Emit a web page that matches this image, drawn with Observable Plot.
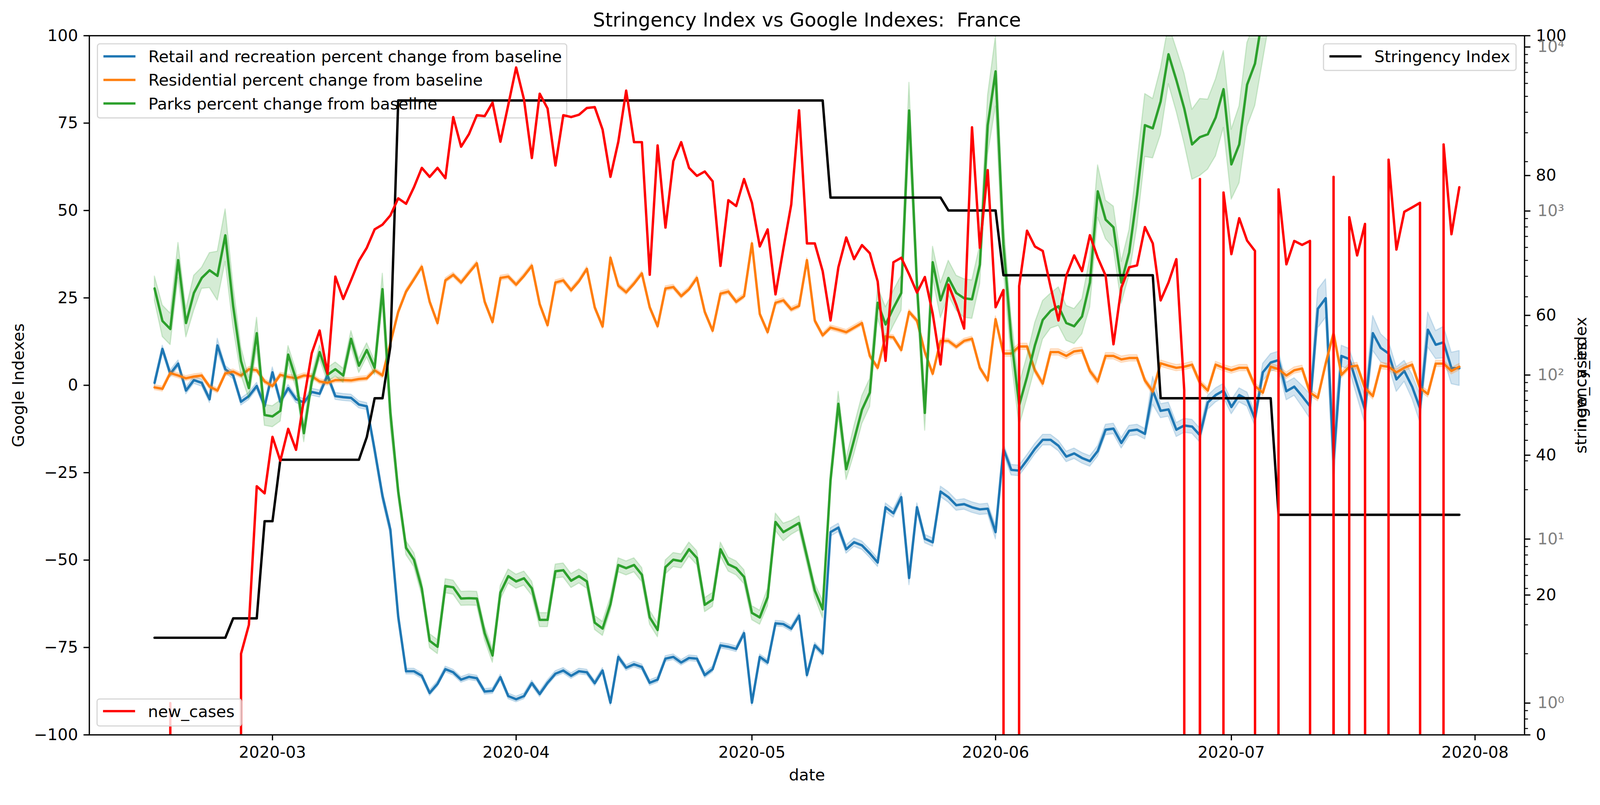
<!DOCTYPE html>
<html>
<head>
<meta charset="utf-8">
<script src="https://cdn.jsdelivr.net/npm/d3@7"></script>
<script src="https://cdn.jsdelivr.net/npm/@observablehq/plot@0.6"></script>
<style>
  html, body { margin: 0; padding: 0; background: #ffffff; overflow: hidden; }
  #wrap { position: relative; width: 4146px; height: 2060px; background: #ffffff; font-family: "DejaVu Sans", sans-serif; overflow: hidden; transform-origin: 0 0; }
  #wrap > svg { position: absolute; left: 0; top: 0; }
  .layer { position: absolute; left: 0; top: 0; width: 4146px; height: 2060px; pointer-events: none; }
  .box { position: absolute; box-sizing: border-box; border: 3.5px solid rgba(204,204,204,0.8); border-radius: 8px; background: rgba(255,255,255,0.8); }
  .handle { position: absolute; height: 6.25px; width: 83.3px; }
  .lab { position: absolute; font-family: "DejaVu Sans", sans-serif; font-size: 41.67px; line-height: 48.5px; white-space: pre; color: #000; }
</style>
</head>
<body>
<div id="wrap"></div>
<script>
// ---------------- data (daily, 2020-02-15 .. 2020-07-30) ----------------
const firstDay = "2020-02-15";
const lastDay = "2020-07-30";

const retail = [
  0.7, 10.4, 3.3, 6.2, -1.5, 1.5, 0.7, -4.0, 11.4, 4.6,
  2.8, -4.7, -3.1, -0.2, -6.0, 3.7, -4.7, -0.8, -4.0, -4.9,
  -1.9, -2.4, 2.8, -3.1, -3.4, -3.6, -5.5, -6.0, -18.5, -31.7,
  -41.3, -66.2, -81.8, -81.8, -83.1, -88.0, -85.4, -81.2, -82.1, -84.2,
  -83.4, -83.8, -87.6, -87.4, -83.5, -88.9, -89.8, -88.9, -85.2, -88.3,
  -85.1, -82.5, -81.6, -83.1, -81.8, -82.1, -85.2, -81.6, -90.8, -77.7,
  -80.8, -79.8, -80.6, -85.1, -84.2, -78.2, -77.7, -79.3, -78.0, -78.2,
  -82.9, -81.2, -74.4, -74.8, -75.4, -70.9, -90.8, -77.7, -79.3, -68.1,
  -68.3, -69.6, -65.9, -82.9, -74.4, -76.7, -42.0, -40.7, -46.9, -44.9,
  -45.8, -48.1, -50.7, -34.9, -36.6, -32.0, -55.1, -34.9, -43.9, -44.9,
  -30.4, -32.0, -34.3, -34.0, -34.9, -35.5, -35.3, -42.0, -18.2, -24.2,
  -24.4, -21.4, -18.2, -15.6, -15.6, -17.3, -20.4, -19.5, -20.8, -21.7,
  -18.8, -12.7, -12.4, -16.5, -13.0, -12.7, -13.9, -1.5, -7.3, -6.9,
  -12.7, -11.5, -11.8, -14.3, -4.9, -2.8, -1.5, -6.2, -2.8, -4.0,
  -9.6, 3.7, 6.5, 7.2, -1.7, -0.4, -3.1, -6.0, 21.9, 24.9,
  -21.4, 8.4, 7.5, 0.2, -7.0, 14.9, 10.7, 9.1, 1.7, 4.1,
  -0.4, -6.6, 15.9, 11.6, 12.3, 4.9, 4.9
];
const retailBand = [
  1, 1, 1, 1, 1, 1, 1, 1, 2, 1,
  1, 1, 1, 1, 1, 1.5, 1, 1, 1, 1,
  1, 1, 1, 1, 1, 1, 1, 1, 1.5, 1.5,
  1.5, 1.5, 0.8, 0.8, 0.8, 0.8, 0.8, 0.8, 0.8, 0.8,
  0.8, 0.8, 0.8, 0.8, 0.8, 0.8, 0.8, 0.8, 0.8, 0.8,
  0.8, 0.8, 0.8, 0.8, 0.8, 0.8, 0.8, 0.8, 0.8, 0.8,
  0.8, 0.8, 0.8, 0.8, 0.8, 0.8, 0.8, 0.8, 0.8, 0.8,
  0.8, 0.8, 0.8, 0.8, 0.8, 0.8, 0.8, 0.8, 0.8, 0.8,
  0.8, 0.8, 0.8, 0.8, 0.8, 0.8, 1.2, 1.2, 1.2, 1.2,
  1.2, 1.2, 1.2, 1.2, 1.2, 1.2, 2, 1.2, 1.2, 1.2,
  1.5, 1.5, 1.5, 1.5, 1.5, 1.5, 1.5, 2, 1.5, 1.5,
  1.5, 1.5, 1.5, 1.5, 1.5, 1.5, 1.5, 1.5, 1.5, 1.5,
  1.5, 1.5, 1.5, 1.5, 1.5, 1.5, 1.5, 4, 2, 2,
  2, 2, 2, 2, 2, 2, 2, 2, 2, 2,
  2, 2.5, 2.5, 2.5, 2.5, 2.5, 3, 3.5, 5.5, 5.5,
  8, 3, 3, 3.5, 4, 5, 4, 3.5, 3.5, 3,
  3.5, 4, 5, 4, 4.5, 4.5, 5
];

const residential = [
  -0.6, -1.0, 3.5, 2.8, 2.0, 2.5, 2.8, -0.4, -1.5, 3.4,
  3.9, 2.8, 4.6, 4.3, 1.1, -0.2, 3.0, 2.4, 2.0, 2.8,
  2.6, 1.1, 0.7, 1.5, 1.5, 1.4, 1.8, 2.0, 4.3, 2.8,
  12.0, 21.0, 26.8, 30.3, 33.9, 23.9, 17.8, 30.0, 31.6, 29.4,
  32.2, 34.9, 23.9, 18.1, 30.7, 31.1, 28.8, 31.3, 34.2, 23.2,
  17.2, 29.4, 30.0, 27.2, 29.8, 33.3, 22.3, 16.8, 36.5, 28.5,
  26.6, 29.1, 32.0, 22.3, 16.9, 27.7, 28.1, 25.5, 27.5, 30.7,
  21.0, 15.6, 26.2, 26.8, 23.9, 25.5, 40.6, 20.4, 15.2, 23.6,
  24.3, 21.7, 22.7, 35.8, 18.5, 14.3, 16.5, 15.9, 15.2, 16.5,
  17.8, 8.4, 5.0, 14.0, 13.7, 10.1, 21.0, 18.5, 9.5, 3.3,
  12.7, 12.7, 11.0, 12.7, 13.3, 5.0, 1.4, 18.9, 9.1, 9.1,
  11.1, 11.1, 4.3, 0.5, 9.5, 9.5, 8.4, 9.7, 10.0, 4.1,
  1.1, 8.4, 8.4, 7.4, 7.8, 7.8, 1.4, -1.8, 6.3, 5.6,
  5.0, 5.3, 5.9, 0.7, -1.5, 5.9, 5.0, 4.3, 5.0, 5.0,
  -0.2, -2.1, 5.3, 4.6, 2.8, 4.3, 4.8, -2.1, -3.6, 6.2,
  14.9, 3.0, 5.3, 5.6, -0.8, -3.1, 5.6, 5.3, 3.7, 5.0,
  5.9, -0.8, -2.5, 6.2, 6.2, 4.1, 5.3
];
const residentialBand = [
  0.7, 0.7, 0.7, 0.7, 0.7, 0.7, 0.7, 0.7, 0.7, 0.7,
  0.7, 0.7, 0.7, 0.7, 0.7, 0.7, 0.7, 0.7, 0.7, 0.7,
  0.7, 0.7, 0.7, 0.7, 0.7, 0.7, 0.7, 0.7, 0.7, 0.7,
  0.7, 0.7, 0.7, 0.7, 0.7, 0.7, 0.7, 0.7, 0.7, 0.7,
  0.7, 0.7, 0.7, 0.7, 0.7, 0.7, 0.7, 0.7, 0.7, 0.7,
  0.7, 0.7, 0.7, 0.7, 0.7, 0.7, 0.7, 0.7, 0.7, 0.7,
  0.7, 0.7, 0.7, 0.7, 0.7, 0.7, 0.7, 0.7, 0.7, 0.7,
  0.7, 0.7, 0.7, 0.7, 0.7, 0.7, 0.7, 0.7, 0.7, 0.7,
  0.7, 0.7, 0.7, 0.7, 0.7, 0.7, 0.7, 0.7, 0.7, 0.7,
  0.7, 0.7, 0.7, 0.7, 0.7, 0.7, 0.7, 0.7, 0.7, 0.7,
  0.7, 0.7, 0.7, 0.7, 0.7, 0.7, 0.7, 0.9, 0.9, 0.9,
  0.9, 0.9, 0.9, 0.9, 0.9, 0.9, 0.9, 0.9, 0.9, 0.9,
  0.9, 0.9, 0.9, 0.9, 0.9, 0.9, 0.9, 0.9, 0.9, 0.9,
  0.9, 0.9, 0.9, 0.9, 0.9, 0.9, 0.9, 0.9, 0.9, 0.9,
  0.9, 0.9, 0.9, 0.9, 0.9, 0.9, 0.9, 0.9, 0.9, 0.9,
  0.9, 0.9, 0.9, 0.9, 0.9, 0.9, 0.9, 0.9, 0.9, 0.9,
  0.9, 0.9, 0.9, 0.9, 0.9, 0.9, 0.9
];

const parks = [
  27.7, 18.4, 16.1, 35.8, 17.8, 26.4, 30.7, 32.9, 31.3, 42.9,
  22.6, 6.9, -0.8, 14.9, -8.5, -8.9, -7.3, 8.8, 1.7, -13.7,
  1.1, 9.5, 3.0, 4.6, 2.8, 13.3, 5.6, 10.1, 5.0, 27.5,
  -7.9, -30.4, -46.5, -49.9, -58.1, -73.1, -74.8, -57.4, -57.8, -61.0,
  -60.9, -61.0, -70.9, -77.3, -59.3, -54.6, -56.1, -55.2, -58.1, -67.1,
  -67.1, -53.2, -52.9, -55.9, -54.6, -56.1, -67.9, -69.6, -62.6, -51.4,
  -52.3, -51.4, -54.2, -66.4, -70.0, -52.0, -49.9, -50.3, -46.9, -49.4,
  -62.8, -61.3, -46.9, -51.2, -52.3, -54.8, -65.1, -66.4, -60.6, -39.1,
  -42.0, -40.7, -39.4, -49.0, -58.7, -64.1, -27.2, -5.3, -24.0, -15.6,
  -7.0, -2.1, 23.6, 17.4, 22.1, 26.4, 78.6, 28.8, -7.9, 35.2,
  24.3, 30.7, 26.4, 24.9, 24.6, 34.5, 74.4, 89.8, 40.3, 13.3,
  -5.7, 2.4, 11.4, 18.7, 21.3, 22.6, 17.8, 16.9, 19.7, 29.4,
  55.5, 47.4, 45.2, 29.4, 38.0, 54.5, 74.4, 73.5, 81.2, 94.7,
  87.3, 79.2, 68.9, 71.0, 71.8, 76.6, 84.7, 63.2, 68.9, 86.0,
  92.0, 106, 118, 124, 128, 122, 130, 126, 119, 125,
  133, 128, 120, 124, 117, 122, 129, 127, 121, 125,
  132, 127, 118, 121, 126, 123, 120
];
const parksBand = [
  3.5, 4.5, 4.5, 5, 4, 5, 3, 5, 7, 7.5,
  6, 4, 3, 4.5, 3, 3, 3, 2.5, 2.5, 2.5,
  2, 2, 2, 2, 2, 2.3, 2, 2, 2, 4.5,
  4, 2, 2, 2, 2, 2, 2, 2, 2, 2,
  2, 2, 2, 2, 2, 2, 2, 2, 2, 2,
  2, 2, 2, 2, 2, 2, 2, 2, 2, 2,
  2, 2, 2, 2, 2, 2, 2, 2, 2, 2,
  2, 2, 2, 2, 2, 2, 2, 2, 2.5, 2.5,
  2.5, 2, 2, 2, 2, 2.5, 2.5, 3.5, 3, 4,
  4, 4, 4.5, 5, 5, 5, 8, 4, 5, 4.5,
  5, 5, 5, 5.5, 5.5, 5.5, 8.5, 10, 7, 6,
  6, 6, 6.5, 5.5, 5, 5.5, 5, 5, 5, 7,
  7.5, 5.5, 6, 6, 6.5, 9, 9, 8.5, 9.5, 8.5,
  9, 10, 10, 11, 10, 11, 11, 10, 11, 12,
  12, 13, 12, 12, 12, 12, 12, 12, 12, 12,
  12, 12, 12, 12, 12, 12, 12, 12, 12, 12,
  12, 12, 12, 12, 12, 12, 12
];

const stringency = [
  13.89, 13.89, 13.89, 13.89, 13.89, 13.89, 13.89, 13.89, 13.89, 13.89,
  16.67, 16.67, 16.67, 16.67, 30.56, 30.56, 39.35, 39.35, 39.35, 39.35,
  39.35, 39.35, 39.35, 39.35, 39.35, 39.35, 39.35, 42.59, 48.15, 48.15,
  55.56, 90.74, 90.74, 90.74, 90.74, 90.74, 90.74, 90.74, 90.74, 90.74,
  90.74, 90.74, 90.74, 90.74, 90.74, 90.74, 90.74, 90.74, 90.74, 90.74,
  90.74, 90.74, 90.74, 90.74, 90.74, 90.74, 90.74, 90.74, 90.74, 90.74,
  90.74, 90.74, 90.74, 90.74, 90.74, 90.74, 90.74, 90.74, 90.74, 90.74,
  90.74, 90.74, 90.74, 90.74, 90.74, 90.74, 90.74, 90.74, 90.74, 90.74,
  90.74, 90.74, 90.74, 90.74, 90.74, 90.74, 76.85, 76.85, 76.85, 76.85,
  76.85, 76.85, 76.85, 76.85, 76.85, 76.85, 76.85, 76.85, 76.85, 76.85,
  76.85, 75.00, 75.00, 75.00, 75.00, 75.00, 75.00, 75.00, 65.74, 65.74,
  65.74, 65.74, 65.74, 65.74, 65.74, 65.74, 65.74, 65.74, 65.74, 65.74,
  65.74, 65.74, 65.74, 65.74, 65.74, 65.74, 65.74, 65.74, 48.15, 48.15,
  48.15, 48.15, 48.15, 48.15, 48.15, 48.15, 48.15, 48.15, 48.15, 48.15,
  48.15, 48.15, 48.15, 31.48, 31.48, 31.48, 31.48, 31.48, 31.48, 31.48,
  31.48, 31.48, 31.48, 31.48, 31.48, 31.48, 31.48, 31.48, 31.48, 31.48,
  31.48, 31.48, 31.48, 31.48, 31.48, 31.48, 31.48
];

const newCases = [
  0, 0, 1, 0, 0, 0, 0, 0, 0, 0,
  0, 2, 3, 21, 19, 42, 30, 47, 35, 71,
  136, 187, 102, 398, 291, 379, 497, 597, 773, 826,
  940, 1195, 1107, 1397, 1832, 1615, 1832, 1585, 3740, 2466,
  2944, 3838, 3791, 4583, 2644, 4436, 7500, 4786, 2105, 5190,
  4217, 1893, 3838, 3740, 3863, 4246, 4300, 3134, 1615, 2644,
  5420, 2630, 2630, 409, 2512, 792, 2014, 2630, 1832, 1637,
  1742, 1517, 463, 1164, 1073, 1567, 1122, 608, 773, 310,
  589, 1094, 4111, 635, 635, 430, 215, 454, 690, 509,
  620, 553, 372, 122, 487, 519, 411, 318, 396, 237,
  116, 356, 268, 192, 3238, 597, 1775, 259, 330, 0,
  349, 759, 608, 571, 345, 215, 404, 536, 430, 712,
  519, 404, 154, 341, 454, 466, 798, 635, 285, 367,
  509, 81, 0, 1567, 0, 0, 1297, 546, 904, 660,
  571, 0, 0, 1355, 473, 657, 621, 657, 0, 0,
  1615, 0, 917, 536, 834, 0, 0, 2056, 582, 989,
  1052, 1122, 0, 0, 2546, 722, 1397
];

const xTickLabels = ["2020-03", "2020-04", "2020-05", "2020-06", "2020-07", "2020-08"];
const leftTicks = [-100, -75, -50, -25, 0, 25, 50, 75, 100];
const stringencyTicks = [0, 20, 40, 60, 80, 100];
const caseDecades = [1, 10, 100, 1000, 10000];

const titleText = "Stringency Index vs Google Indexes:  France";
const legendGoogle = [
  {label: "Retail and recreation percent change from baseline", color: "#1f77b4"},
  {label: "Residential percent change from baseline", color: "#ff7f0e"},
  {label: "Parks percent change from baseline", color: "#2ca02c"}
];

// ---------------- build ----------------
const dates = d3.utcDay.range(new Date(firstDay + "T00:00Z"), d3.utcDay.offset(new Date(lastDay + "T00:00Z"), 1));
const rows = dates.map((date, i) => ({
  date,
  retail: retail[i], retailLo: retail[i] - retailBand[i], retailHi: retail[i] + retailBand[i],
  residential: residential[i], residentialLo: residential[i] - residentialBand[i], residentialHi: residential[i] + residentialBand[i],
  parks: parks[i], parksLo: parks[i] - parksBand[i], parksHi: parks[i] + parksBand[i],
  stringency: stringency[i],
  cases: newCases[i]
}));

// matplotlib-like 5% margins on x
const t0 = +dates[0], t1 = +dates[dates.length - 1], span = t1 - t0;
const xDomain = [new Date(t0 - 0.05 * span), new Date(t1 + 0.05 * span)];

// log autoscale with 5% margins (in log space) on positive values
const posCases = newCases.filter(c => c > 0);
const l0 = Math.log10(d3.min(posCases)), l1 = Math.log10(d3.max(posCases));
const lpad = 0.05 * (l1 - l0);
const logDomain = [Math.pow(10, l0 - lpad), Math.pow(10, l1 + lpad)];
const minorLog = [];
for (let k = -1; k <= 4; k++) for (let m = 2; m <= 9; m++) {
  const v = m * Math.pow(10, k);
  if (v >= logDomain[0] && v <= logDomain[1]) minorLog.push(v);
}

const W = 4146, H = 2060;
const FS = 41.67;
const TICK = 14.6, PAD = 14.6, LW = 6.25;
const base = {
  width: W, height: H,
  marginLeft: 231, marginRight: 196, marginTop: 92, marginBottom: 157,
  style: {fontFamily: "DejaVu Sans", fontSize: FS + "px", background: "transparent", overflow: "visible", maxWidth: "none", color: "black"}
};

const minusFmt = d => (d < 0 ? "\u2212" + Math.abs(d) : String(d));
const supDigits = {"0": "\u2070", "1": "\u00b9", "2": "\u00b2", "3": "\u00b3", "4": "\u2074"};
const decadeFmt = d => "10" + String(Math.round(Math.log10(d))).split("").map(c => supDigits[c]).join("");

const googleSeries = [
  {key: "retail", color: "#1f77b4"},
  {key: "residential", color: "#ff7f0e"},
  {key: "parks", color: "#2ca02c"}
];

const svg1 = Plot.plot({
  ...base,
  x: {type: "utc", domain: xDomain},
  y: {domain: [-100, 100]},
  marks: [
    ...googleSeries.flatMap(s => [
      Plot.lineY(rows, {x: "date", y: s.key, stroke: s.color, strokeWidth: LW, clip: true}),
      Plot.areaY(rows, {x: "date", y1: s.key + "Lo", y2: s.key + "Hi", fill: s.color, fillOpacity: 0.2,
        stroke: s.color, strokeOpacity: 0.2, strokeWidth: 3, clip: true})
    ]),
    Plot.axisX({ticks: xTickLabels.map(s => new Date(s + "-01T00:00Z")), tickFormat: d3.utcFormat("%Y-%m"),
      tickSize: TICK, tickPadding: PAD, strokeWidth: 3.3, label: null}),
    Plot.axisY({ticks: leftTicks, tickFormat: minusFmt, anchor: "left", tickSize: TICK, tickPadding: PAD,
      strokeWidth: 3.3, label: null}),
    Plot.text([titleText], {text: d => d, frameAnchor: "top", textAnchor: "middle", lineAnchor: "bottom", dy: -24, fontSize: 50}),
    Plot.text(["Google Indexes"], {text: d => d, frameAnchor: "left", textAnchor: "middle", lineAnchor: "middle", rotate: -90, dx: -183}),
    Plot.text(["date"], {text: d => d, frameAnchor: "bottom", textAnchor: "middle", lineAnchor: "bottom", dy: 118})
  ]
});

const svg2 = Plot.plot({
  ...base,
  x: {type: "utc", domain: xDomain, axis: null},
  y: {domain: [0, 100]},
  marks: [
    Plot.lineY(rows, {x: "date", y: "stringency", stroke: "black", strokeWidth: LW, clip: true}),
    Plot.axisY({ticks: stringencyTicks, anchor: "right", tickSize: TICK, tickPadding: PAD, strokeWidth: 3.3, label: null}),
    Plot.text(["stringency_index"], {text: d => d, frameAnchor: "right", textAnchor: "middle", lineAnchor: "middle", rotate: -90, dx: 147})
  ]
});

const svg3 = Plot.plot({
  ...base,
  x: {type: "utc", domain: xDomain, axis: null},
  y: {type: "log", domain: logDomain},
  marks: [
    // non-positive counts are clipped to a tiny positive value, as matplotlib's log scale does
    Plot.lineY(rows, {x: "date", y: d => (d.cases > 0 ? d.cases : 1e-300), stroke: "red", strokeWidth: LW, clip: true}),
    Plot.axisY({ticks: minorLog, tickFormat: () => "", anchor: "right", tickSize: 8.3, tickPadding: 0, strokeWidth: 2.5, label: null}),
    Plot.axisY({ticks: caseDecades, tickFormat: decadeFmt, anchor: "right", tickSize: TICK, tickPadding: PAD + 4,
      strokeWidth: 3.3, stroke: "black", fill: "#808080", label: null}),
    Plot.frame({stroke: "black", strokeWidth: 3.3}),
    Plot.text(["new_cases"], {text: d => d, frameAnchor: "right", textAnchor: "middle", lineAnchor: "middle", rotate: -90, dx: 147})
  ]
});

const wrap = document.getElementById("wrap");

function addLegend(box, entries) {
  const layer = document.createElement("div");
  layer.className = "layer";
  const b = document.createElement("div");
  b.className = "box";
  Object.assign(b.style, {left: box.x + "px", top: box.y + "px", width: box.w + "px", height: box.h + "px"});
  layer.appendChild(b);
  entries.forEach((e, i) => {
    const cy = box.firstRow + i * 61;
    const h = document.createElement("div");
    h.className = "handle";
    Object.assign(h.style, {left: (box.x + 16.7) + "px", top: (cy - 3.125) + "px", background: e.color});
    layer.appendChild(h);
    const t = document.createElement("div");
    t.className = "lab";
    t.textContent = e.label;
    Object.assign(t.style, {left: (box.x + 133.3) + "px", top: (cy + 16 - 38.67) + "px"});
    layer.appendChild(t);
  });
  wrap.appendChild(layer);
}

wrap.appendChild(svg1);
addLegend({x: 251, y: 112, w: 1219, h: 195, firstRow: 146}, legendGoogle);
wrap.appendChild(svg2);
addLegend({x: 3428, y: 112, w: 502, h: 72, firstRow: 146}, [{label: "Stringency Index", color: "#000000"}]);
wrap.appendChild(svg3);
addLegend({x: 250, y: 1809, w: 377, h: 73, firstRow: 1842}, [{label: "new_cases", color: "#ff0000"}]);

// fit the 4146x2060 drawing into whatever viewport the page is given
function fit() {
  const vw = document.documentElement.clientWidth || window.innerWidth;
  const vh = document.documentElement.clientHeight || window.innerHeight;
  const s = Math.min(vw / W, vh / H, 1);
  wrap.style.transform = s < 1 ? `scale(${s})` : "";
}
fit();
window.addEventListener("resize", fit);
</script>
</body>
</html>
